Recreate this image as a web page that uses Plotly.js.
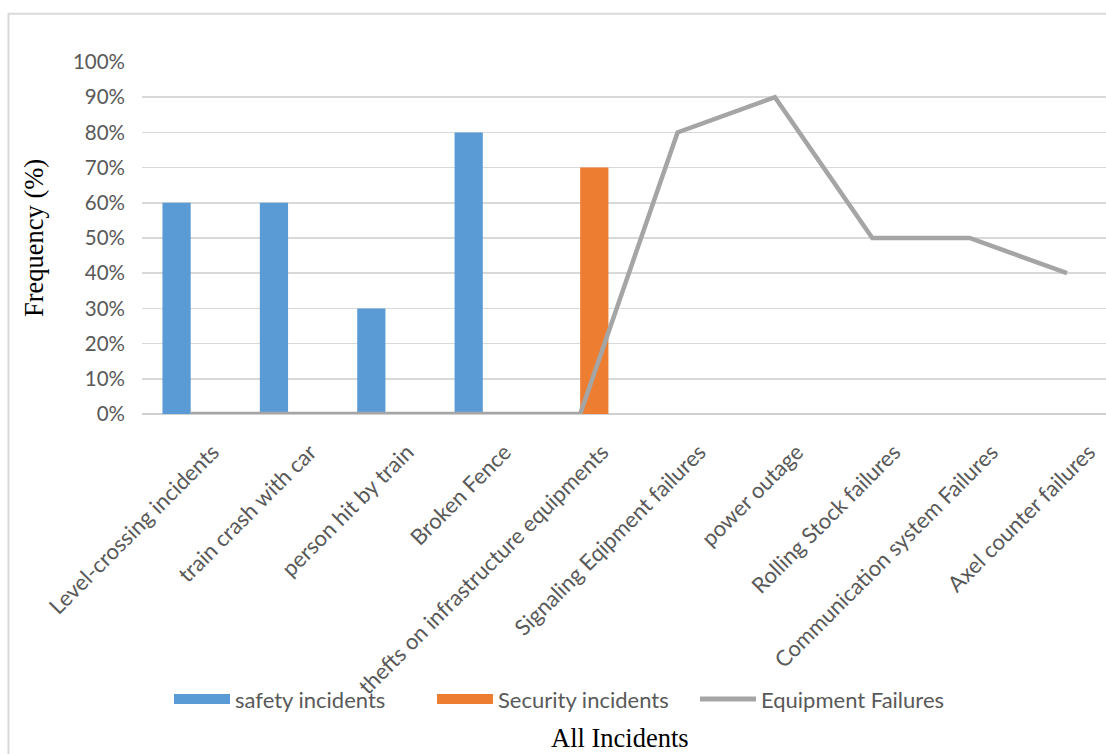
<!DOCTYPE html>
<html>
<head>
<meta charset="utf-8">
<script src="https://cdn.plot.ly/plotly-3.0.1.min.js"></script>
<style>
  html, body { margin: 0; padding: 0; background: #ffffff; }
  #chart { width: 1106px; height: 754px; }
</style>
</head>
<body>
<div id="chart"></div>
<script>
// Incident categories along the x axis
const categories = [
  "Level-crossing incidents",
  "train crash with car",
  "person hit by train",
  "Broken Fence",
  "thefts on infrastructure equipments",
  "Signaling Eqipment failures",
  "power outage",
  "Rolling Stock failures",
  "Communication system Failures",
  "Axel counter failures"
];

// Frequency of each incident type (fraction of 1)
const safetyIncidents   = [0.6, 0.6, 0.3, 0.8, null, null, null, null, null, null];
const securityIncidents = [null, null, null, null, 0.7, null, null, null, null, null];
const equipmentFailures = [0, 0, 0, 0, 0, 0.8, 0.9, 0.5, 0.5, 0.4];

const yTickValues = [0, 0.1, 0.2, 0.3, 0.4, 0.5, 0.6, 0.7, 0.8, 0.9, 1.0];
const yTickLabels = ["0%", "10%", "20%", "30%", "40%", "50%", "60%", "70%", "80%", "90%", "100%"];

const seriesColors = { safety: "#5B9BD5", security: "#ED7D31", equipment: "#A5A5A5" };

const sansFamily = "Lato, 'Open Sans', sans-serif";
const yTickFont = { family: sansFamily, size: 20.5, color: "#595959" };
const xTickFont = { family: sansFamily, size: 22, color: "#595959" };
const legendFont = { family: sansFamily, size: 22, color: "#595959" };
const serifFont = { family: "'Liberation Serif', 'Times New Roman', serif", size: 26.5, color: "#000000" };

const traces = [
  {
    type: "bar",
    name: "safety incidents",
    x: categories,
    y: safetyIncidents,
    marker: { color: seriesColors.safety },
    showlegend: false
  },
  {
    type: "bar",
    name: "Security incidents",
    x: categories,
    y: securityIncidents,
    marker: { color: seriesColors.security },
    showlegend: false
  },
  {
    type: "scatter",
    mode: "lines",
    name: "Equipment Failures",
    x: categories,
    y: equipmentFailures,
    line: { color: seriesColors.equipment, width: 4.5 },
    showlegend: false
  },
  // Legend keys: wide rectangular swatches for the bar series, a thick line for the failures
  {
    type: "scatter", mode: "lines", name: "safety incidents",
    x: [null], y: [null],
    line: { color: seriesColors.safety, width: 15 }
  },
  {
    type: "scatter", mode: "lines", name: "Security incidents",
    x: [null], y: [null],
    line: { color: seriesColors.security, width: 15 }
  },
  {
    type: "scatter", mode: "lines", name: "Equipment Failures",
    x: [null], y: [null],
    line: { color: seriesColors.equipment, width: 5 }
  }
];

const layout = {
  width: 1106,
  height: 754,
  margin: { l: 142, r: 0, t: 62, b: 340 },
  paper_bgcolor: "#ffffff",
  plot_bgcolor: "#ffffff",
  barmode: "group",
  bargap: 0.42,
  bargroupgap: 0,
  showlegend: true,
  hovermode: false,
  font: yTickFont,
  xaxis: {
    type: "category",
    range: [-0.5, 9.4],
    tickangle: -45,
    tickfont: xTickFont,
    ticks: "",
    ticklabelshift: 22,
    ticklabelstandoff: 20,
    showgrid: false,
    showline: false,
    zeroline: false,
    fixedrange: true
  },
  yaxis: {
    range: [0, 1.0],
    tickvals: yTickValues,
    ticktext: yTickLabels,
    tickfont: yTickFont,
    ticks: "",
    ticklabelstandoff: 16,
    showgrid: true,
    gridcolor: "#D9D9D9",
    gridwidth: 1.5,
    zeroline: true,
    zerolinecolor: "#D0D0D0",
    zerolinewidth: 1.5,
    showline: false,
    fixedrange: true
  },
  legend: {
    orientation: "h",
    x: 0.028,
    xanchor: "left",
    y: -0.81,
    yanchor: "middle",
    font: legendFont,
    traceorder: "normal",
    entrywidthmode: "pixels",
    entrywidth: 192,
    itemwidth: 56,
    bgcolor: "rgba(0,0,0,0)"
  },
  shapes: [
    {
      type: "rect",
      xref: "paper", yref: "paper",
      x0: -0.1385, x1: 1.2,
      y0: -1.0, y1: 1.137,
      line: { color: "#D9D9D9", width: 2 },
      fillcolor: "rgba(0,0,0,0)",
      layer: "below"
    }
  ],
  annotations: [
    {
      text: "Frequency (%)",
      xref: "paper", yref: "paper",
      x: -0.112, y: 0.5,
      xanchor: "center", yanchor: "middle",
      textangle: -90,
      showarrow: false,
      font: serifFont
    },
    {
      text: "All Incidents",
      xref: "paper", yref: "paper",
      x: 0.496, y: -0.92,
      xanchor: "center", yanchor: "middle",
      showarrow: false,
      font: serifFont
    }
  ]
};

Plotly.newPlot("chart", traces, layout, { displayModeBar: false, staticPlot: true });
</script>
</body>
</html>
